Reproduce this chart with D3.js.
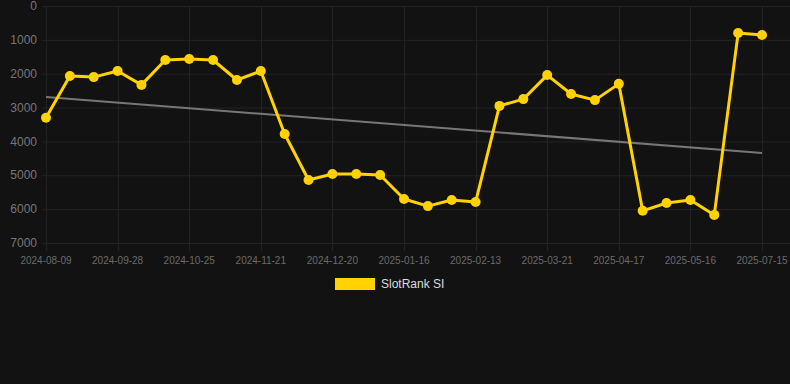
<!DOCTYPE html>
<html>
<head>
<meta charset="utf-8">
<script src="https://cdn.jsdelivr.net/npm/d3@7"></script>
<style>
  html, body { margin: 0; padding: 0; background: #121212; }
  svg { display: block; font-family: "Helvetica", "Liberation Sans", Arial, sans-serif; }
</style>
</head>
<body>
<svg id="chart" width="790" height="384"></svg>
<script>
// rank values (lower is better), one per week-ish sample
const rankValues = [3300, 2070, 2100, 1920, 2330, 1595, 1565, 1595, 2185, 1920,
  3780, 5140, 4960, 4960, 4990, 5700, 5910, 5730, 5790, 2950,
  2750, 2040, 2600, 2780, 2300, 6050, 5820, 5730, 6170, 800, 855];

// only every third category gets a label
const tickLabels = ["2024-08-09", "2024-09-28", "2024-10-25", "2024-11-21", "2024-12-20",
  "2025-01-16", "2025-02-13", "2025-03-21", "2025-04-17", "2025-05-16", "2025-07-15"];

const yTicks = [0, 1000, 2000, 3000, 4000, 5000, 6000, 7000];

// trend line, start and end value
const trendValues = [2690, 4340];

const seriesName = "SlotRank SI";

const svg = d3.select("#chart");
const W = 790, plotLeft = 46, plotRight = 762, plotTop = 6, plotBottom = 243;

const xScale = d3.scalePoint()
  .domain(d3.range(rankValues.length))
  .range([plotLeft, plotRight]);

const yScale = d3.scaleLinear()
  .domain([0, 7000])
  .range([plotTop, plotBottom]);

// horizontal grid
svg.append("g")
  .selectAll("line")
  .data(yTicks)
  .join("line")
  .attr("x1", plotLeft - 4)
  .attr("x2", W)
  .attr("y1", d => yScale(d) + 0.5)
  .attr("y2", d => yScale(d) + 0.5)
  .attr("stroke", "#232323")
  .attr("stroke-width", 1)

// vertical grid on labelled categories
const labelIdx = tickLabels.map((t, i) => i * 3);
svg.append("g")
  .selectAll("line")
  .data(labelIdx)
  .join("line")
  .attr("x1", d => Math.round(xScale(d)) + 0.5)
  .attr("x2", d => Math.round(xScale(d)) + 0.5)
  .attr("y1", plotTop)
  .attr("y2", plotBottom + 8)
  .attr("stroke", "#232323")

// y labels
svg.append("g")
  .selectAll("text")
  .data(yTicks)
  .join("text")
  .attr("x", 37)
  .attr("y", d => yScale(d))
  .attr("dy", "0.35em")
  .attr("text-anchor", "end")
  .attr("font-size", "12px")
  .attr("fill", "#777")
  .text(d => d)

// x labels
svg.append("g")
  .selectAll("text")
  .data(tickLabels)
  .join("text")
  .attr("x", (d, i) => xScale(labelIdx[i]))
  .attr("y", 260)
  .attr("dy", "0.35em")
  .attr("text-anchor", "middle")
  .attr("font-size", "10px")
  .attr("fill", "#6b6b6b")
  .text(d => d)

// trend line
svg.append("line")
  .attr("x1", xScale(0))
  .attr("x2", xScale(rankValues.length - 1))
  .attr("y1", yScale(trendValues[0]))
  .attr("y2", yScale(trendValues[1]))
  .attr("stroke", "#777")
  .attr("stroke-width", 2)

// the series line
const line = d3.line()
  .x((d, i) => xScale(i))
  .y(d => yScale(d));

svg.append("path")
  .datum(rankValues)
  .attr("d", line)
  .attr("fill", "none")
  .attr("stroke", "#ffd200")
  .attr("stroke-width", 3)
  .attr("stroke-linejoin", "round")

svg.append("g")
  .selectAll("circle")
  .data(rankValues)
  .join("circle")
  .attr("cx", (d, i) => xScale(i))
  .attr("cy", d => yScale(d))
  .attr("r", 5)
  .attr("fill", "#ffd200")

// legend
svg.append("rect")
  .attr("x", 335)
  .attr("y", 278)
  .attr("width", 40)
  .attr("height", 12)
  .attr("fill", "#ffd200")

svg.append("text")
  .attr("x", 381)
  .attr("y", 284)
  .attr("dy", "0.35em")
  .attr("font-size", "12px")
  .attr("fill", "#dddddd")
  .text(seriesName)
</script>
</body>
</html>
